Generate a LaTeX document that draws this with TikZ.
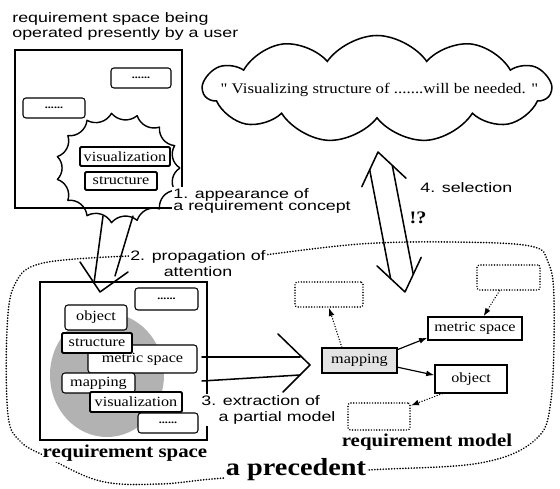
\documentclass[tikz,border=0pt]{standalone}
\usepackage{fontspec}
\newfontfamily\labelsans[FakeStretch=1.3]{Liberation Sans}
\newfontfamily\boxserif[FakeStretch=1.15]{Liberation Serif}
\usetikzlibrary{shapes.geometric, shapes.symbols, arrows.meta, calc}
\tikzset{wh/.style 2 args={minimum width=#1*0.03cm, minimum height=#2*0.03cm}}

\begin{document}
\begin{tikzpicture}[x=0.03cm, y=-0.03cm,
    frame/.style={draw, line width=1.2pt, inner sep=0pt},
    rbox/.style={draw, fill=white, rounded corners=2.5pt, line width=0.9pt, inner sep=0pt, font=\boxserif\fontsize{12}{14}\selectfont},
    kbox/.style={rbox, rounded corners=1pt, line width=1.7pt},
    dotbox/.style={rbox, font=\boxserif\bfseries\fontsize{9}{10}\selectfont},
    gbox/.style={draw, fill=white, line width=1.3pt, dash pattern=on 0.1pt off 2.2pt, line cap=round, rounded corners=2pt, inner sep=0pt},
    mbox/.style={draw, fill=white, line width=1.1pt, inner sep=0pt, font=\boxserif\fontsize{12}{14}\selectfont},
    lbl/.style={font=\labelsans\fontsize{11.7}{13}\selectfont, inner sep=1pt},
    big/.style={font=\boxserif\bfseries\fontsize{15.5}{17}\selectfont, inner sep=1pt},
    hollow/.style={line width=1.3pt, line cap=round, line join=round},
    sarr/.style={-{Latex[length=7pt, width=5pt]}, line width=1pt},
    darr/.style={sarr, line width=1.2pt, dash pattern=on 0.1pt off 2.2pt, line cap=round},
    bound/.style={line width=1.5pt, dash pattern=on 0.1pt off 2.3pt, line cap=round}
  ]
  \useasboundingbox (0,0) rectangle (560,489);

  % the precedent
  \draw[bound] plot[smooth, tension=0.6] coordinates {(265,255) (360,244) (450,242) (530,246)
    (548,262) (554,300) (551,400) (535,440) (480,463) (368,470) (225,478) (160,484) (100,481)
    (45,456) (20,441) (8,415) (7,330) (15,284) (43,263) (130,256)};

  % requirement space operated by the user
  \node[lbl, anchor=west, align=left, font=\labelsans\fontsize{11.7}{12.8}\selectfont] (title) at (11,26)
    {requirement space being\\operated presently by a user};
  \node[frame, wh={167}{158}] (userspace) at (98.5,129) {};
  \node[dotbox, wh={60}{20}] (ua) at (141,78) {......};
  \node[dotbox, wh={62}{20}] (ub) at (54,108) {......};
  \foreach \i in {0,...,15}
    \coordinate (b\i) at ($(118,168)+({62*cos(\i*24)},{55*sin(\i*24)})$);
  \draw[line width=1.2pt, line join=round] (b0) \foreach \i in {1,...,15}{ to[bend right=45] (b\i) };
  \node[kbox, wh={90}{19}] (uvis) at (125,156.5) {visualization};
  \node[kbox, wh={72}{18}] (ustruct) at (121,181) {structure};
  \node[lbl, anchor=west, align=left, fill=white, font=\labelsans\fontsize{11.7}{11}\selectfont] (appear) at (172,201)
    {1. appearance of\\a requirement concept};

  % 2. propagation
  \draw[hollow] (103,216) -- (94,283);
  \draw[hollow] (133,216) -- (115,276);
  \draw[hollow] (80,262) -- (100,292) -- (128,272);
  \node[lbl, align=center, fill=white, font=\labelsans\fontsize{11.7}{13.6}\selectfont] (propag) at (198,263.5)
    {2. propagation of\\attention};

  % requirement space
  \node[frame, wh={167}{158}] (reqspace) at (123.5,361) {};
  \node[ellipse, fill=gray!60, wh={114}{124}] (focus) at (107,375) {};
  \node[dotbox, wh={63}{22}] (sa) at (166.5,299) {......};
  \node[rbox, wh={62}{25}] (sobj) at (96,317.5) {object};
  \node[rbox, wh={109}{28}] (smetric) at (142.5,359) {metric space};
  \node[kbox, wh={70}{20}] (sstruct) at (97,343) {structure};
  \node[rbox, wh={73}{20}] (smap) at (98.5,383) {mapping};
  \node[kbox, wh={92}{20}] (svis) at (136,402) {visualization};
  \node[dotbox, wh={60}{20}] (sb) at (168,423) {......};
  \node[big, fill=white] (spacelbl) at (125,453) {requirement space};

  % 3. extraction
  \draw[hollow] (202,357) -- (300,357);
  \draw[hollow] (202,381) -- (300,375);
  \draw[hollow] (278,334) -- (310,365) -- (283,392);
  \node[lbl, anchor=west, align=left, fill=white, font=\labelsans\fontsize{11.7}{13.6}\selectfont] (extract) at (200,410)
    {3. extraction of\\\hspace*{1.25em}a partial model};

  % requirement model
  \node[gbox, wh={68}{25}] (ml) at (329,294.5) {};
  \node[gbox, wh={63}{25}] (mr) at (508.5,277.5) {};
  \node[gbox, wh={62}{27}] (mb) at (379,416.5) {};
  \node[mbox, wh={94}{23}] (mmetric) at (475,328.5) {metric space};
  \node[mbox, wh={75}{25}, fill=gray!22, line width=1.5pt] (mmap) at (359.5,360.5) {mapping};
  \node[mbox, wh={72}{28}] (mobj) at (471,379) {object};
  \draw[sarr] (mmap.16) -- (mmetric.191);
  \draw[sarr] (mmap.-10) -- (mobj.174);
  \draw[darr] (mmap.143) -- (ml.south);
  \draw[darr] (mr.-124) -- (mmetric.55);
  \draw[darr] (mobj.207) -- (mb.19);
  \node[big] (modellbl) at (427,442) {requirement model};

  % the thought
  \node[cloud, draw, line width=1.3pt, cloud puffs=11, cloud puff arc=110, aspect=3.3,
    wh={347}{107}] (thought) at (377,89) {};
  \node[font=\boxserif\fontsize{12.5}{14}\selectfont] (thoughttxt) at (379.5,90)
    {" Visualizing structure of .......will be needed. "};

  % 4. selection
  \draw[hollow] (369.7,169.9) -- (390.6,278.5);
  \draw[hollow] (392.3,165.5) -- (413.2,274.1);
  \draw[hollow] (361.8,186.7) -- (378,152) -- (406,178.2);
  \draw[hollow] (377,265.9) -- (405,292) -- (421.2,257.4);
  \node[lbl, anchor=west] (select) at (419,188) {4. selection};
  \node[font=\boxserif\bfseries\fontsize{15}{17}\selectfont] (puzzle) at (418,218) {!?};

  \node[big, font=\boxserif\bfseries\fontsize{21}{24}\selectfont, fill=white] (precedent) at (296,470) {a precedent};
\end{tikzpicture}
\end{document}
